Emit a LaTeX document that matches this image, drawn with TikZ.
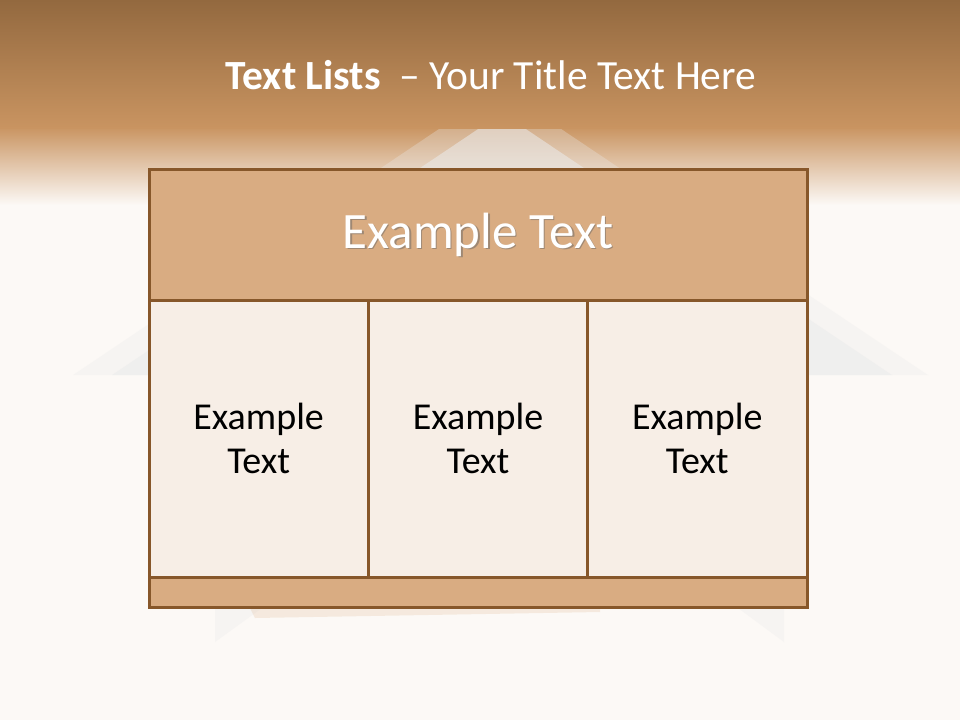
\documentclass[tikz,border=0pt]{standalone}
\usepackage{fontspec}
\setmainfont{Carlito}
\usetikzlibrary{positioning}

\definecolor{bgcol}{HTML}{FCF9F6}
\definecolor{bandtop}{HTML}{93693F}
\definecolor{bandbot}{HTML}{C99461}
\definecolor{rimcol}{HTML}{87572A}
\definecolor{headfill}{HTML}{D9AC82}
\definecolor{cellfill}{HTML}{F7EEE6}
\definecolor{roofcol}{HTML}{EBEBEB}

\tikzset{
    tablebox/.style={draw=rimcol, line width=3pt, inner sep=0pt, outer sep=0pt, anchor=north west},
    headbox/.style={tablebox, fill=headfill, minimum width=658pt, minimum height=131pt},
    cellbox/.style={tablebox, fill=cellfill, minimum width=219.33pt, minimum height=277pt,
        align=center, font=\fontsize{38}{44}\selectfont, text=black},
    footbox/.style={tablebox, fill=headfill, minimum width=658pt, minimum height=30pt},
    headtext/.style={font=\fontsize{51}{58}\selectfont}
}

\begin{document}
\begin{tikzpicture}[x=1pt,y=-1pt]
\useasboundingbox (0,0) rectangle (960,720);

% background and fading band
\fill[bgcol] (0,0) rectangle (960,720);
\shade[top color=bandbot, bottom color=bgcol] (0,127) rectangle (960,205);

% faint house behind the table
\fill[roofcol, opacity=0.3] (500,88) -- (928,375) -- (73,375) -- cycle;
\fill[roofcol, opacity=0.55] (502,113) -- (892,375) -- (112,375) -- cycle;
\fill[roofcol, opacity=0.35] (215,608) -- (262,608) -- (215,642) -- cycle;
\fill[roofcol, opacity=0.35] (784,608) -- (738,608) -- (784,642) -- cycle;
\fill[headfill, opacity=0.2] (250,608) -- (600,608) -- (600,612) -- (255,618) -- cycle;

\shade[top color=bandtop, bottom color=bandbot] (0,0) rectangle (960,128);

% title
\node[text=white, font=\fontsize{41.5}{50}\selectfont] (title) at (491,75)
    {\textbf{Text Lists}\hspace{0.45em}– Your Title Text Here};

% table
\node[headbox] (head) at (149,169) {};
\node[text=black!60, opacity=0.5, headtext] (headshadow) at ([shift={(1.5,1.5)}]head.center) {Example Text};
\node[text=white, headtext] (headlabel) at (head.center) {Example Text};

\node[cellbox, below=0pt of head.south west, anchor=north west] (cella) {Example\\Text};
\node[cellbox, right=0pt of cella] (cellb) {Example\\Text};
\node[cellbox, right=0pt of cellb] (cellc) {Example\\Text};

\node[footbox, below=0pt of cella.south west, anchor=north west] (foot) {};
\end{tikzpicture}
\end{document}
